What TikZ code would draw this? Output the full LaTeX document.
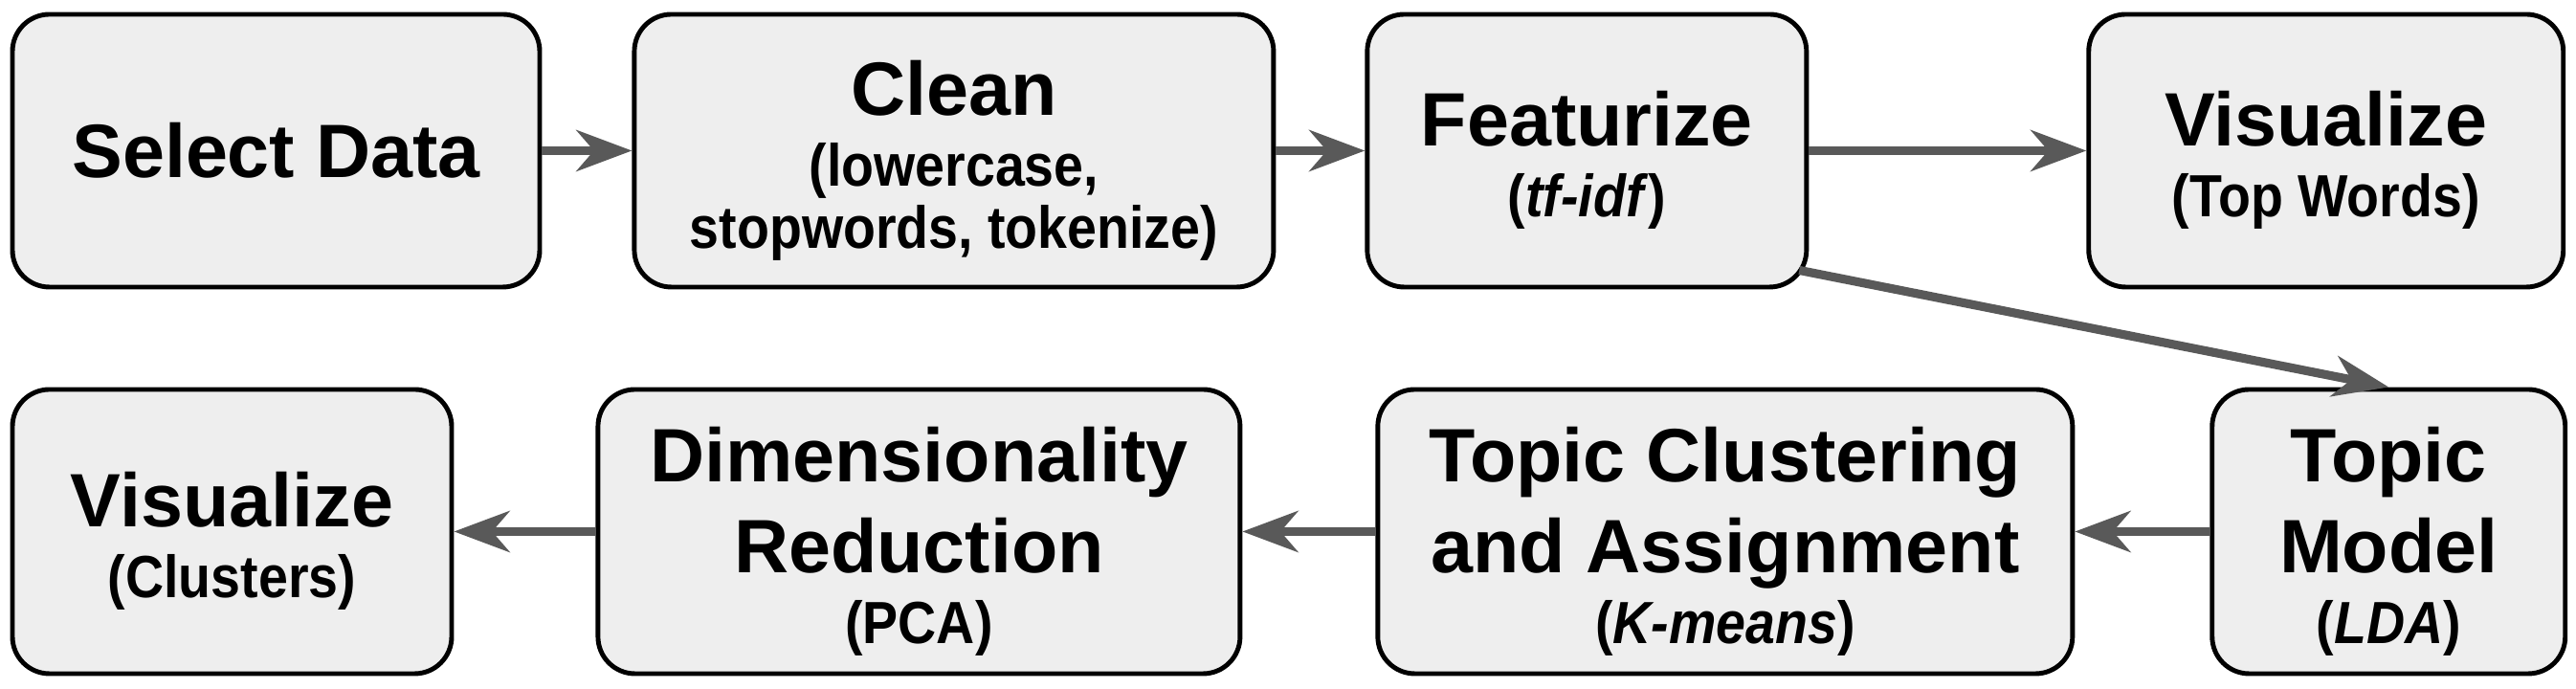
\documentclass[tikz,border=0pt]{standalone}
\usepackage{fontspec}
\setmainfont{Liberation Sans}
\usetikzlibrary{positioning,arrows.meta}
\definecolor{boxgray}{HTML}{EEEEEE}
\definecolor{arrowgray}{HTML}{595959}
\newcommand{\subtxt}[1]{\scalebox{1}[1.12]{\fontsize{15.8}{18}\selectfont #1}}
\newcommand{\tstrut}{\rule{0pt}{22pt}}

\begin{document}
\begin{tikzpicture}[
	stage/.style={draw=black, line width=1.4pt, fill=boxgray, rounded corners=11pt, align=center, inner sep=0pt, font=\fontsize{22.5}{27}\selectfont\bfseries},
	flow/.style={draw=arrowgray, line width=2.6pt, -{Stealth[length=16.5pt,width=12.2pt,inset=5.2pt]}}]
	\useasboundingbox (0,0) rectangle (26.92,7.20);
	% top row
	\node(sel)[stage, minimum width=5.51cm, minimum height=2.85cm] at (2.885,5.625){Select Data};
	\node(clean)[stage, minimum width=6.68cm, minimum height=2.85cm, right=0.94cm of sel]{\tstrut Clean\\[-6pt]\subtxt{(lowercase,}\\[-8.5pt]\subtxt{stopwords, tokenize)}};
	\node(feat)[stage, minimum width=4.59cm, minimum height=2.85cm, right=0.93cm of clean]{\tstrut Featurize\\[-6pt]\subtxt{(\textit{tf-idf})}};
	\node(vistop)[stage, minimum width=4.96cm, minimum height=2.85cm, right=2.90cm of feat]{\tstrut Visualize\\[-6pt]\subtxt{(Top Words)}};
	% bottom row
	\node(visclu)[stage, minimum width=4.59cm, minimum height=2.97cm] at (2.425,1.645){\tstrut Visualize\\[-6pt]\subtxt{(Clusters)}};
	\node(dimred)[stage, minimum width=6.71cm, minimum height=2.97cm, right=1.48cm of visclu]{\tstrut Dimensionality\\Reduction\\[-6pt]\subtxt{(PCA)}};
	\node(topclu)[stage, minimum width=7.26cm, minimum height=2.97cm, right=1.39cm of dimred]{\tstrut Topic Clustering\\and Assignment\\[-6pt]\subtxt{(\textit{K-means})}};
	\node(topmod)[stage, minimum width=3.69cm, minimum height=2.97cm, right=1.41cm of topclu]{\tstrut Topic\\Model\\[-6pt]\subtxt{(\textit{LDA})}};
	% arrows
	\draw[flow](sel.east) to (clean.west);
	\draw[flow](clean.east) to (feat.west);
	\draw[flow](feat.east) to (vistop.west);
	\draw[flow]([shift={(-0.1,0.2)}]feat.south east) to (topmod.north);
	\draw[flow](topmod.west) to (topclu.east);
	\draw[flow](topclu.west) to (dimred.east);
	\draw[flow](dimred.west) to (visclu.east);
\end{tikzpicture}
\end{document}
